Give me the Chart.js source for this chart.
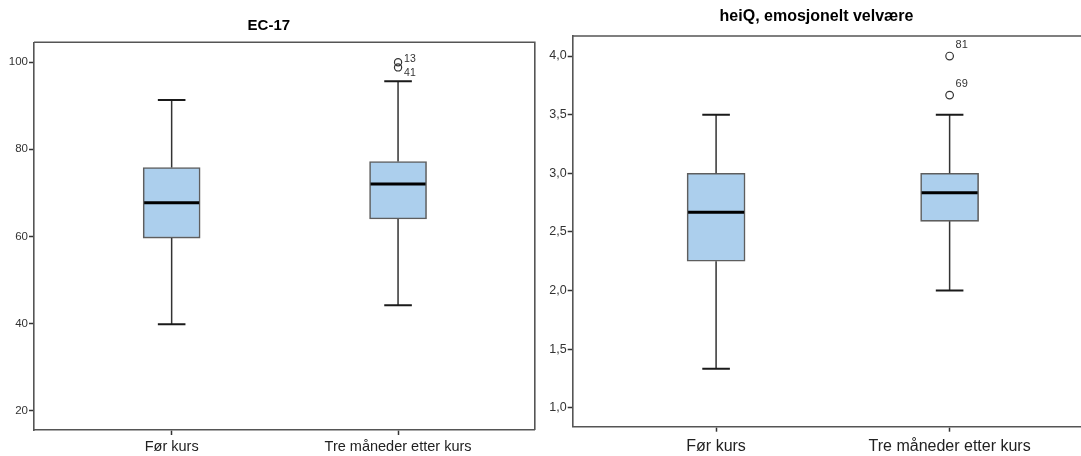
<!DOCTYPE html>
<html>
<head>
<meta charset="utf-8">
<script src="https://cdn.jsdelivr.net/npm/chart.js@4"></script>
<style>
html,body{margin:0;padding:0;background:#fff;overflow:hidden;width:1081px;height:456px;}
#wrapL{position:absolute;left:0;top:0;width:540px;height:456px;}
#wrapR{position:absolute;left:540px;top:0;width:560px;height:456px;}
</style>
</head>
<body>
<div id="wrapL"><canvas id="cL" width="540" height="456"></canvas></div>
<div id="wrapR"><canvas id="cR" width="560" height="456"></canvas></div>
<script>
// ---- data ----
const categories = ['Før kurs', 'Tre måneder etter kurs'];

const ec17Title = 'EC-17';
const ec17Min = [39.8, 44.2];
const ec17Q1 = [59.6, 64.0];
const ec17Median = [67.7, 72.0];
const ec17Q3 = [75.8, 77.2];
const ec17Max = [91.3, 95.6];
const ec17OutlierCat = [1, 1];
const ec17OutlierVal = [100, 98.8];
const ec17OutlierId = ['13', '41'];
const ec17Ticks = [20, 40, 60, 80, 100];

const heiqTitle = 'heiQ, emosjonelt velvære';
const heiqMin = [1.333, 2.0];
const heiqQ1 = [2.25, 2.59];
const heiqMedian = [2.667, 2.833];
const heiqQ3 = [3.0, 3.0];
const heiqMax = [3.5, 3.5];
const heiqOutlierCat = [1, 1];
const heiqOutlierVal = [4.0, 3.667];
const heiqOutlierId = ['81', '69'];
const heiqTicks = [1.0, 1.5, 2.0, 2.5, 3.0, 3.5, 4.0];

const FONT = "'Liberation Sans', Arial, Helvetica, sans-serif";

const boxExtras = {
  id: 'boxExtras',
  afterDatasetsDraw(chart, args, o) {
    const {ctx, chartArea: a} = chart;
    const x = chart.scales.x, y = chart.scales.y;
    ctx.save();
    // top / right frame
    ctx.strokeStyle = o.frameColor;
    ctx.lineWidth = o.frameWidth;
    ctx.beginPath();
    ctx.moveTo(a.left, a.top);
    ctx.lineTo(a.right, a.top);
    ctx.lineTo(a.right, a.bottom);
    ctx.stroke();
    const d = o.stats;
    d.min.forEach((mn, i) => {
      const cx = x.getPixelForValue(i);
      const pMin = y.getPixelForValue(mn), pMax = y.getPixelForValue(d.max[i]);
      const pQ1 = y.getPixelForValue(d.q1[i]), pQ3 = y.getPixelForValue(d.q3[i]);
      const pMed = y.getPixelForValue(d.median[i]);
      ctx.strokeStyle = '#333';
      ctx.lineWidth = 1.5;
      ctx.beginPath();
      ctx.moveTo(cx, pQ3); ctx.lineTo(cx, pMax);
      ctx.moveTo(cx, pQ1); ctx.lineTo(cx, pMin);
      ctx.stroke();
      ctx.strokeStyle = '#1a1a1a';
      ctx.lineWidth = 2;
      ctx.beginPath();
      ctx.moveTo(cx - o.capHalf, pMax); ctx.lineTo(cx + o.capHalf, pMax);
      ctx.moveTo(cx - o.capHalf, pMin); ctx.lineTo(cx + o.capHalf, pMin);
      ctx.stroke();
      ctx.strokeStyle = '#000';
      ctx.lineWidth = 3;
      ctx.beginPath();
      ctx.moveTo(cx - o.boxHalf + 1, pMed); ctx.lineTo(cx + o.boxHalf - 1, pMed);
      ctx.stroke();
    });
    // outlier labels
    ctx.fillStyle = '#333';
    ctx.font = o.labelSize + 'px ' + FONT;
    ctx.textAlign = 'left';
    ctx.textBaseline = 'middle';
    o.outCat.forEach((c, k) => {
      const px = x.getPixelForValue(c), py = y.getPixelForValue(o.outVal[k]);
      ctx.fillText(o.outId[k], px + o.labelDx, py + o.labelDy[k]);
    });
    ctx.restore();
  }
};

function makeChart(id, s) {
  return new Chart(document.getElementById(id), {
    type: 'bar',
    data: {
      datasets: [
        {
          type: 'bar',
          data: categories.map((c, i) => ({x: i, y: [s.q1[i], s.q3[i]]})),
          backgroundColor: 'rgb(172,207,237)',
          borderColor: '#5e5e5e',
          borderWidth: 1.6,
          borderSkipped: false,
          barThickness: s.boxW
        },
        {
          type: 'scatter',
          data: s.outCat.map((c, k) => ({x: c, y: s.outVal[k]})),
          pointRadius: s.ptR,
          pointBorderWidth: 1.2,
          pointBorderColor: '#333',
          pointBackgroundColor: 'rgba(0,0,0,0)'
        }
      ]
    },
    options: {
      responsive: false,
      animation: false,
      events: [],
      layout: {padding: {left: 0, right: s.padR, top: 0, bottom: 0}},
      plugins: {
        legend: {display: false},
        tooltip: {enabled: false},
        title: {
          display: true,
          text: s.title,
          color: '#000',
          font: {family: FONT, size: s.titleSize, weight: 'bold'},
          padding: {top: s.titleTop, bottom: s.titleBottom}
        },
        boxExtras: {
          stats: s,
          frameColor: '#555',
          frameWidth: 1.6,
          capHalf: 13.8,
          boxHalf: s.boxW / 2,
          outCat: s.outCat, outVal: s.outVal, outId: s.outId,
          labelSize: s.labelSize, labelDx: 6, labelDy: s.labelDy
        }
      },
      scales: {
        x: {
          type: 'linear',
          offset: false,
          min: s.xMin, max: s.xMax,
          afterBuildTicks: sc => { sc.ticks = categories.map((c, i) => ({value: i})); },
          afterFit: sc => { sc.height = s.xH; },
          grid: {display: true, offset: false, drawOnChartArea: false, drawTicks: true, tickLength: 5, tickWidth: 1.5, tickColor: '#333', color: '#333'},
          border: {display: true, color: '#555', width: 1.6},
          ticks: {
            autoSkip: false, maxRotation: 0, padding: s.xPad,
            color: '#222',
            font: {family: FONT, size: s.xFont},
            callback: v => categories[Math.round(v)]
          }
        },
        y: {
          type: 'linear',
          min: s.yMin, max: s.yMax,
          afterBuildTicks: sc => { sc.ticks = s.ticks.map(v => ({value: v})); },
          afterFit: sc => { sc.width = s.yW; },
          grid: {display: true, offset: false, drawOnChartArea: false, drawTicks: true, tickLength: 5, tickWidth: 1.5, tickColor: '#333', color: '#333'},
          border: {display: true, color: '#555', width: 1.6},
          ticks: {
            padding: 1,
            color: '#333',
            font: {family: FONT, size: s.yFont},
            callback: s.fmt
          }
        }
      }
    },
    plugins: [boxExtras]
  });
}

makeChart('cL', {
  title: ec17Title,
  min: ec17Min, q1: ec17Q1, median: ec17Median, q3: ec17Q3, max: ec17Max,
  outCat: ec17OutlierCat, outVal: ec17OutlierVal, outId: ec17OutlierId,
  ticks: ec17Ticks,
  fmt: v => String(v),
  xMin: -0.608, xMax: 1.604, yMin: 15.52, yMax: 104.57,
  padR: 2.3, yW: 34, xH: 26, xPad: 3,
  titleSize: 15, titleTop: 17, titleBottom: 7.3,
  xFont: 14.5, yFont: 11.5, boxW: 57, ptR: 3.6,
  labelSize: 10.5, labelDy: [-3, 5.5]
});

makeChart('cR', {
  title: heiqTitle,
  min: heiqMin, q1: heiqQ1, median: heiqMedian, q3: heiqQ3, max: heiqMax,
  outCat: heiqOutlierCat, outVal: heiqOutlierVal, outId: heiqOutlierId,
  ticks: heiqTicks,
  fmt: v => v.toFixed(1).replace('.', ','),
  xMin: -0.614, xMax: 1.614, yMin: 0.838, yMax: 4.171,
  padR: 7, yW: 32.7, xH: 29.3, xPad: 5.4,
  titleSize: 16, titleTop: 7.4, titleBottom: 9.4,
  xFont: 16, yFont: 12.5, boxW: 58, ptR: 3.8,
  labelSize: 11, labelDy: [-11, -11]
});
</script>
</body>
</html>
